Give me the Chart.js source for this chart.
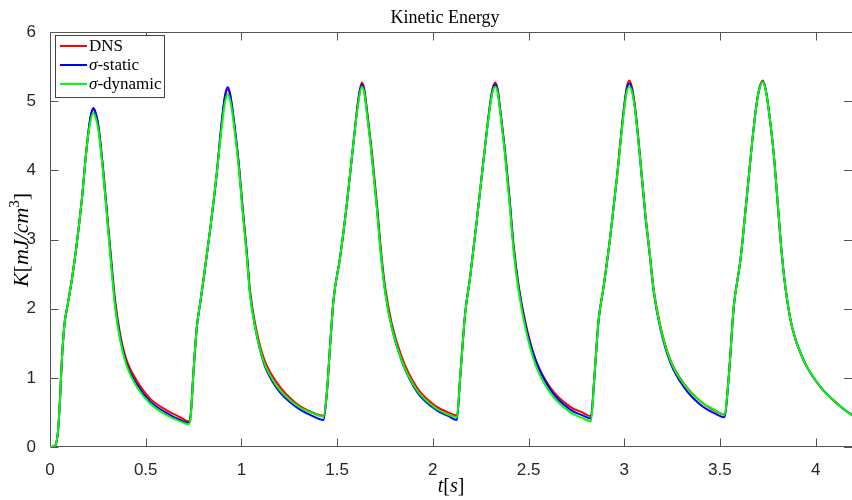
<!DOCTYPE html>
<html>
<head>
<meta charset="utf-8">
<script src="https://cdn.jsdelivr.net/npm/chart.js@4.4.1/dist/chart.umd.min.js"></script>
<style>
  html, body { margin: 0; padding: 0; background: #fff; overflow: hidden; }
  canvas { display: block; }
</style>
</head>
<body>
<canvas id="c" width="852" height="500"></canvas>
<script>
// ---- data ----
const chartTitle = 'Kinetic Energy';
const seriesLabels = ['DNS', 'σ-static', 'σ-dynamic'];
const seriesColors = ['#ff0000', '#0000ff', '#00ff00'];
const xTicks = [0, 0.5, 1, 1.5, 2, 2.5, 3, 3.5, 4];
const yTicks = [0, 1, 2, 3, 4, 5, 6];

// time [s]
const tSec = [
  0.000, 0.020, 0.032, 0.040, 0.046, 0.052, 0.061, 0.070, 0.078, 0.090, 0.113, 0.139, 0.166, 0.192,
  0.210, 0.226, 0.240, 0.253, 0.279, 0.305, 0.322, 0.340, 0.366, 0.401, 0.453, 0.523, 0.610, 0.680, 0.723,
  0.735, 0.749, 0.767, 0.784, 0.801, 0.836, 0.871, 0.897, 0.914, 0.929, 0.943, 0.958, 0.984, 1.007, 1.028,
  1.045, 1.072, 1.115, 1.185, 1.290, 1.370, 1.429,
  1.446, 1.464, 1.481, 1.516, 1.551, 1.585, 1.612, 1.629, 1.642, 1.655, 1.681, 1.708, 1.729, 1.751, 1.786,
  1.838, 1.917, 2.021, 2.080, 2.126,
  2.143, 2.169, 2.195, 2.230, 2.265, 2.300, 2.314, 2.326, 2.339, 2.352, 2.378, 2.401, 2.422, 2.448, 2.483,
  2.535, 2.614, 2.718, 2.780, 2.826,
  2.844, 2.866, 2.892, 2.927, 2.962, 2.997, 3.013, 3.027, 3.042, 3.058, 3.084, 3.110, 3.133, 3.154, 3.189,
  3.241, 3.311, 3.398, 3.470, 3.523,
  3.546, 3.572, 3.607, 3.642, 3.677, 3.700, 3.725, 3.740, 3.755, 3.781, 3.802, 3.820, 3.842, 3.877, 3.938,
  4.025, 4.112, 4.192, 4.200
];

// kinetic energy K [mJ/cm^3]
const dns = [
  0, 0.01, 0.05, 0.18, 0.38, 0.67, 1.21, 1.60, 1.83, 2.02, 2.40, 2.92, 3.57, 4.34,
  4.73, 4.88, 4.80, 4.63, 3.98, 3.17, 2.65, 2.13, 1.64, 1.25, 0.96, 0.70, 0.53, 0.43, 0.37,
  0.47, 1.06, 1.73, 2.07, 2.40, 3.13, 3.95, 4.68, 5.05, 5.17, 5.05, 4.77, 4.15, 3.44, 2.82,
  2.26, 1.78, 1.30, 0.93, 0.62, 0.50, 0.45,
  0.77, 1.49, 2.12, 2.75, 3.52, 4.39, 5.06, 5.27, 5.18, 4.90, 4.28, 3.52, 2.85, 2.31, 1.78,
  1.30, 0.86, 0.58, 0.50, 0.455,
  1.01, 1.93, 2.46, 3.28, 4.15, 4.98, 5.20, 5.27, 5.17, 4.88, 4.26, 3.59, 2.92, 2.34, 1.81,
  1.28, 0.86, 0.58, 0.50, 0.445,
  1.01, 1.83, 2.31, 3.04, 3.90, 4.87, 5.20, 5.30, 5.18, 4.88, 4.17, 3.39, 2.82, 2.28, 1.75,
  1.26, 0.92, 0.66, 0.53, 0.47,
  1.01, 2.02, 2.70, 3.66, 4.63, 5.12, 5.30, 5.16, 4.88, 4.24, 3.52, 2.89, 2.31, 1.73, 1.25,
  0.87, 0.63, 0.46, 0.45
];
const sigmaStatic = [
  0, 0.01, 0.05, 0.18, 0.38, 0.67, 1.21, 1.60, 1.83, 2.02, 2.40, 2.92, 3.57, 4.34,
  4.75, 4.90, 4.82, 4.64, 3.95, 3.13, 2.60, 2.07, 1.59, 1.20, 0.91, 0.66, 0.49, 0.39, 0.35,
  0.45, 1.06, 1.73, 2.07, 2.40, 3.13, 3.95, 4.70, 5.08, 5.20, 5.08, 4.78, 4.15, 3.42, 2.80,
  2.22, 1.73, 1.23, 0.85, 0.57, 0.45, 0.39,
  0.77, 1.49, 2.12, 2.75, 3.52, 4.39, 5.03, 5.24, 5.14, 4.86, 4.23, 3.46, 2.79, 2.25, 1.72,
  1.24, 0.80, 0.53, 0.45, 0.39,
  1.01, 1.93, 2.46, 3.28, 4.15, 4.96, 5.18, 5.24, 5.15, 4.87, 4.24, 3.57, 2.89, 2.31, 1.78,
  1.27, 0.83, 0.54, 0.46, 0.41,
  1.01, 1.83, 2.31, 3.04, 3.90, 4.85, 5.17, 5.26, 5.15, 4.86, 4.13, 3.35, 2.78, 2.24, 1.71,
  1.22, 0.87, 0.61, 0.49, 0.43,
  1.01, 2.02, 2.70, 3.66, 4.63, 5.10, 5.28, 5.15, 4.87, 4.24, 3.52, 2.89, 2.31, 1.73, 1.25,
  0.87, 0.63, 0.46, 0.45
];
const sigmaDynamic = [
  0, 0.01, 0.05, 0.18, 0.38, 0.67, 1.21, 1.60, 1.83, 2.02, 2.40, 2.92, 3.57, 4.34,
  4.69, 4.83, 4.75, 4.58, 3.92, 3.10, 2.56, 2.03, 1.55, 1.17, 0.87, 0.63, 0.46, 0.37, 0.33,
  0.43, 1.06, 1.73, 2.07, 2.40, 3.13, 3.95, 4.62, 4.98, 5.10, 4.99, 4.72, 4.10, 3.38, 2.76,
  2.20, 1.73, 1.25, 0.88, 0.60, 0.49, 0.44,
  0.77, 1.49, 2.12, 2.75, 3.52, 4.39, 5.00, 5.21, 5.12, 4.84, 4.21, 3.44, 2.77, 2.24, 1.72,
  1.25, 0.82, 0.55, 0.47, 0.43,
  1.01, 1.93, 2.46, 3.28, 4.15, 4.94, 5.15, 5.21, 5.12, 4.84, 4.20, 3.52, 2.84, 2.26, 1.73,
  1.20, 0.78, 0.50, 0.42, 0.37,
  1.01, 1.83, 2.31, 3.04, 3.90, 4.82, 5.13, 5.21, 5.12, 4.84, 4.14, 3.37, 2.80, 2.26, 1.73,
  1.25, 0.91, 0.66, 0.54, 0.47,
  1.01, 2.02, 2.70, 3.66, 4.63, 5.10, 5.28, 5.15, 4.87, 4.24, 3.52, 2.89, 2.31, 1.73, 1.25,
  0.87, 0.63, 0.46, 0.45
];

// ---- styling ----
const serif = "'Liberation Serif', 'DejaVu Serif', serif";
const sans = "'Liberation Sans', Arial, sans-serif";
const axisColor = '#555555';
const textColor = '#262626';
const tickLen = 8;

const seriesValues = [dns, sigmaStatic, sigmaDynamic];
const toPoints = vals => tSec.map((t, i) => ({ x: t, y: vals[i] }));

// draw a row of text runs (some italic, some superscript) starting at x
function runsWidth(ctx, runs, size) {
  let w = 0;
  for (const r of runs) {
    ctx.font = `${r.italic ? 'italic ' : ''}${r.sup ? Math.round(size * 0.7) : size}px ${serif}`;
    w += ctx.measureText(r.text).width;
  }
  return w;
}
function drawRuns(ctx, runs, x, y, size) {
  for (const r of runs) {
    const s = r.sup ? Math.round(size * 0.7) : size;
    ctx.font = `${r.italic ? 'italic ' : ''}${s}px ${serif}`;
    ctx.fillText(r.text, x, r.sup ? y - size * 0.4 : y);
    x += ctx.measureText(r.text).width;
  }
}

const xTitleRuns = [{ text: 't', italic: true }, { text: '[' }, { text: 's', italic: true }, { text: ']' }];
const yTitleRuns = [
  { text: 'K', italic: true }, { text: '[' }, { text: 'mJ/cm', italic: true },
  { text: '3', sup: true }, { text: ']' }
];
const legendRuns = [
  [{ text: 'DNS' }],
  [{ text: 'σ', italic: true }, { text: '-static' }],
  [{ text: 'σ', italic: true }, { text: '-dynamic' }]
];

const frameAndText = {
  id: 'frameAndText',
  beforeDatasetsDraw(chart) {
    const { ctx, chartArea: a, scales: { x, y } } = chart;
    const L = Math.round(a.left) + 0.5, B = Math.round(a.bottom) - 0.5;
    const T = Math.round(a.top) + 0.5, R = a.right;
    ctx.save();
    ctx.strokeStyle = axisColor;
    ctx.lineWidth = 1;
    ctx.beginPath();
    ctx.moveTo(L, T); ctx.lineTo(L, B); ctx.lineTo(R, B);
    ctx.moveTo(L, T); ctx.lineTo(R, T);
    xTicks.forEach(v => {
      const px = Math.round(x.getPixelForValue(v)) + 0.5;
      ctx.moveTo(px, B); ctx.lineTo(px, B - tickLen);
      ctx.moveTo(px, T); ctx.lineTo(px, T + tickLen);
    });
    yTicks.forEach(v => {
      const py = Math.round(y.getPixelForValue(v)) + 0.5;
      ctx.moveTo(L, py); ctx.lineTo(L + tickLen, py);
      ctx.moveTo(R, py); ctx.lineTo(R - tickLen, py);
    });
    ctx.stroke();
    ctx.restore();
  },
  afterDraw(chart) {
    const { ctx } = chart;
    ctx.save();
    ctx.fillStyle = '#000';
    ctx.textBaseline = 'alphabetic';

    // title
    ctx.font = `18px ${serif}`;
    ctx.textAlign = 'center';
    ctx.fillText(chartTitle, 445, 23);
    ctx.textAlign = 'left';

    // x axis title
    const xs = 20;
    const xw = runsWidth(ctx, xTitleRuns, xs);
    drawRuns(ctx, xTitleRuns, 451 - xw / 2, 492, xs);

    // y axis title (rotated)
    const ys = 22;
    const yw = runsWidth(ctx, yTitleRuns, ys);
    ctx.save();
    ctx.translate(28, 240);
    ctx.rotate(-Math.PI / 2);
    drawRuns(ctx, yTitleRuns, -yw / 2, 0, ys);
    ctx.restore();

    // legend
    const bx = 55.5, by = 35.5, bw = 109, bh = 62;
    ctx.fillStyle = '#fff';
    ctx.fillRect(bx, by, bw, bh);
    ctx.strokeStyle = '#444';
    ctx.lineWidth = 1;
    ctx.strokeRect(bx, by, bw, bh);
    const rows = [46, 65, 84];
    rows.forEach((ry, i) => {
      ctx.strokeStyle = seriesColors[i];
      ctx.lineWidth = 2;
      ctx.beginPath();
      ctx.moveTo(60, ry); ctx.lineTo(87, ry);
      ctx.stroke();
      ctx.fillStyle = '#000';
      drawRuns(ctx, legendRuns[i], 89, ry + 5, 17);
    });
    ctx.restore();
  }
};

new Chart(document.getElementById('c'), {
  type: 'line',
  data: {
    datasets: seriesLabels.map((label, i) => ({
      label,
      data: toPoints(seriesValues[i]),
      borderColor: seriesColors[i],
      backgroundColor: seriesColors[i],
      borderWidth: 2,
      pointRadius: 0,
      fill: false,
      cubicInterpolationMode: 'monotone',
      order: 3 - i
    }))
  },
  options: {
    responsive: false,
    animation: false,
    devicePixelRatio: 1,
    layout: { padding: { top: 32, right: 0, left: 0, bottom: 0 } },
    plugins: { legend: { display: false }, tooltip: { enabled: false }, title: { display: false } },
    scales: {
      x: {
        type: 'linear',
        min: 0,
        max: 4.19,
        afterBuildTicks: s => { s.ticks = xTicks.map(v => ({ value: v })); },
        afterFit: s => { s.height = 53; },
        grid: { display: false },
        border: { display: false },
        ticks: {
          color: textColor,
          font: { family: sans, size: 17 },
          padding: 5,
          maxRotation: 0,
          autoSkip: false,
          callback: v => String(v)
        }
      },
      y: {
        type: 'linear',
        min: 0,
        max: 6,
        afterBuildTicks: s => { s.ticks = yTicks.map(v => ({ value: v })); },
        afterFit: s => { s.width = 50; },
        grid: { display: false },
        border: { display: false },
        ticks: {
          color: textColor,
          font: { family: sans, size: 17 },
          padding: 6,
          callback: v => String(v)
        }
      }
    }
  },
  plugins: [frameAndText]
});
</script>
</body>
</html>
